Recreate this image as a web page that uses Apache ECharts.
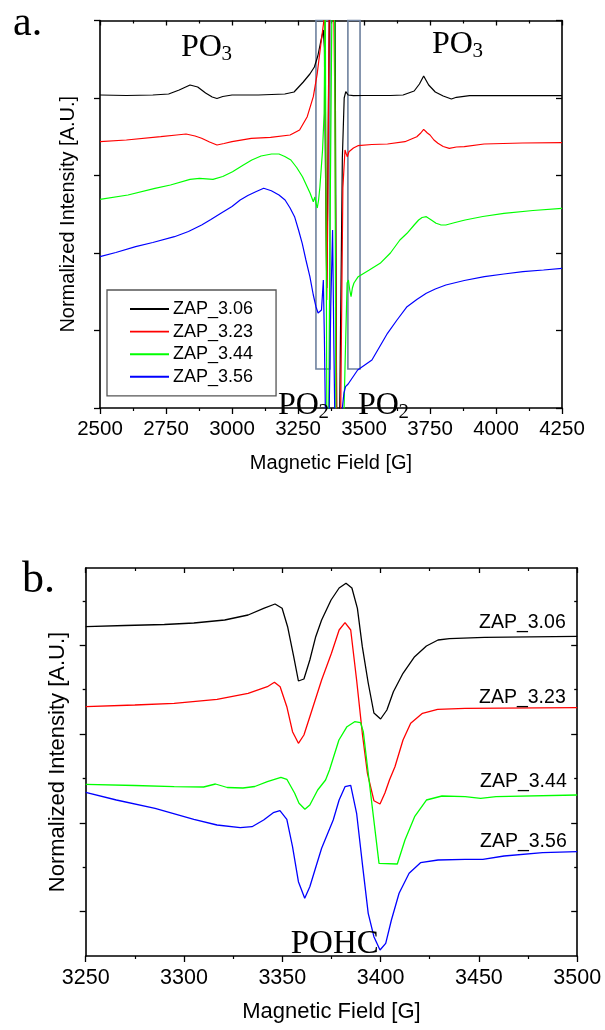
<!DOCTYPE html>
<html>
<head>
<meta charset="utf-8">
<script src="https://cdn.jsdelivr.net/npm/echarts@6/dist/echarts.min.js"></script>
<style>
  html, body { margin: 0; padding: 0; background: #ffffff; }
  #chart { width: 605px; height: 1030px; }
</style>
</head>
<body>
<div id="chart"></div>
<script>
// Sample names and trace colours
const samples = ['ZAP_3.06', 'ZAP_3.23', 'ZAP_3.44', 'ZAP_3.56'];
const traceColors = ['#000000', '#ff0000', '#00ff00', '#0000ff'];

// Panel a: wide sweep, field [G] vs. stacked normalized intensity [a.u.]
const wideZAP306 = [[2500,313],[2600,312.5],[2700,313],[2760,314],[2800,318],[2841,323],[2870,321],[2900,315],[2925,311],[2943,309.5],[2965,311.5],[3000,313],[3100,313],[3200,314],[3235,316],[3270,326],[3295,334],[3312,341],[3325,352],[3335,365],[3346,378],[3350,360],[3354,240],[3359,120],[3362,200],[3366,330],[3370,420],[3382,520],[3390,420],[3394,150],[3398,-100],[3405,-80],[3410,50],[3418,250],[3425,310],[3431,316.3],[3440,313],[3447,311.3],[3460,312.3],[3500,312.5],[3600,312.5],[3648,313],[3690,317],[3710,324],[3726,332],[3745,323],[3770,316],[3800,312],[3831,309],[3850,310.7],[3900,312.3],[4000,312.3],[4100,312.5],[4250,312.3]];
const wideZAP323 = [[2500,266.3],[2600,268],[2730,271.3],[2790,273],[2826,274],[2860,272],[2885,269.7],[2915,266],[2943,263],[2970,264.5],[3000,266.3],[3073,269.7],[3146,270.7],[3220,273],[3256,278],[3285,291.3],[3308,311.3],[3323,334.7],[3337,364.7],[3348,387.5],[3351,400],[3355,260],[3359,108],[3363,200],[3368,400],[3380,520],[3390,300],[3395,60],[3400,-150],[3408,-120],[3414,60],[3420,220],[3428,258],[3433,254],[3437,251.3],[3443,256.3],[3460,260],[3477,262.3],[3530,263.5],[3589,264],[3655,266.3],[3700,271.3],[3715,275],[3726,278.7],[3740,275],[3750,273],[3765,268],[3780,264.7],[3800,261.5],[3823,259.7],[3850,261],[3880,261.3],[3955,264],[4100,265],[4250,265.3]];
const wideZAP344 = [[2500,208.7],[2606,213],[2708,219.7],[2767,223],[2841,228.7],[2877,229.7],[2928,228.7],[2965,231.5],[3002,236.3],[3040,242.5],[3075,248],[3110,252],[3150,254],[3178,254],[3200,251.5],[3223,248],[3245,240.5],[3267,231.3],[3296,214.7],[3308,206.3],[3314,211],[3318,205],[3323,200],[3328,208],[3333,221.3],[3343,258],[3349,295],[3353,420],[3357,150],[3360,-60],[3366,-20],[3372,200],[3380,450],[3388,480],[3394,-60],[3410,-100],[3422,-30],[3428,40],[3436,125],[3441,128],[3446,118],[3451,111.3],[3456,120],[3462,125],[3478,131.3],[3520,138],[3561,144.7],[3600,155],[3636,168],[3663,174.7],[3690,183],[3707,188],[3720,190.5],[3736,191.3],[3755,188],[3773,184.7],[3790,183.2],[3810,183],[3845,185.5],[3883,188],[3950,191.5],[4030,194.7],[4140,197.5],[4250,199.7]];
const wideZAP356 = [[2500,151.3],[2560,155.5],[2635,161.3],[2700,165.5],[2782,171.3],[2835,176.5],[2885,183],[2920,188.5],[2958,194.7],[3000,201.5],[3031,208],[3060,212.5],[3090,216.3],[3120,219.7],[3149,217.3],[3178,213],[3201,208],[3220,200],[3237,191.3],[3252,178],[3266,164.7],[3280,148],[3295,131.3],[3308,113],[3318,101.3],[3326,95],[3333,93.7],[3339,98],[3346,128],[3350,70],[3356,-50],[3366,-40],[3374,100],[3381,178],[3386,60],[3392,-60],[3410,-90],[3418,0],[3424,15],[3430,21.3],[3440,24],[3447,25],[3476,38],[3530,48],[3589,74.7],[3625,88],[3663,101.3],[3700,108.5],[3736,114.7],[3770,119],[3810,123],[3880,127.5],[3956,131.3],[4030,134],[4102,136.3],[4180,138],[4250,139.7]];

// Panel b: narrow sweep around the POHC signal
const narrowZAP306 = [[3250,329.3],[3270,330.5],[3290,331.5],[3305,333],[3320.7,336],[3332.6,341],[3340.5,347.7],[3346.3,352],[3349.9,347.7],[3352.7,329.3],[3355.8,299.3],[3358.2,275],[3361,277],[3364,296],[3367,319.3],[3370,336],[3374.8,356],[3378.9,368],[3382.4,372.7],[3385.4,368],[3388.2,347.7],[3390.7,309.3],[3393.7,273],[3396.6,243],[3400,237],[3403.2,246],[3406.5,264.3],[3411.4,282.7],[3417.3,299.3],[3423.3,310],[3429.2,316],[3435,317.3],[3452.8,318.7],[3500,319.7]];
const narrowZAP323 = [[3250,249.3],[3275,251],[3295,252.7],[3316.8,256.7],[3332.6,262.7],[3342.4,269.3],[3346,273.7],[3348.9,269.3],[3352.3,249.3],[3355.2,224.3],[3358.2,212.7],[3361,221],[3364,239.3],[3370,276],[3375,302.7],[3378.9,326],[3381.9,333.3],[3384.8,326],[3387.8,276],[3390.7,222.7],[3393.3,182.7],[3396.6,155.3],[3399.7,152],[3402.2,163],[3404.5,176],[3407.3,189.3],[3411.4,216],[3415.3,232.7],[3421.3,242.7],[3429,246.7],[3443,247.7],[3500,248.3]];
const narrowZAP344 = [[3250,171.7],[3275,170.5],[3295,169.3],[3310,169],[3316,172],[3322,168.5],[3330,168],[3336,169.5],[3342.4,174.3],[3349.3,178.7],[3352.3,176.7],[3356.3,162.7],[3358.5,152.7],[3361.5,146.7],[3364,151],[3368,166],[3372,176],[3374,186],[3378.8,216],[3382.9,229.3],[3386.8,234.3],[3389.8,233.3],[3391.2,224.3],[3392.7,199.3],[3394.6,168],[3399.2,92.7],[3408.5,92],[3412.4,116],[3417.3,139.3],[3423.3,156],[3431.2,160],[3443,159.3],[3450.9,157.7],[3458.7,159.3],[3500,161]];
const narrowZAP356 = [[3250,163.7],[3265.6,156],[3285.3,147.7],[3305,136.7],[3316.8,131],[3328.6,128.3],[3334.6,129.3],[3340.5,136],[3345.4,143.3],[3348.8,145.3],[3352.3,136.7],[3355.2,109.3],[3358.2,74.3],[3361.4,57.7],[3364,69.3],[3367.1,89.3],[3370,107.7],[3375.9,136],[3378.9,156],[3381.9,169.3],[3384.8,170.7],[3387.8,142.7],[3390.7,92.7],[3393.7,42.7],[3396.6,19.3],[3399.7,6],[3402.6,12.7],[3405.5,36],[3409.4,62.7],[3414.5,82.7],[3420.3,93.3],[3429.2,96],[3443,96.7],[3452,96.7],[3462.8,100],[3482.4,103.3],[3500,104.3]];

// Axis ticks (field in gauss; intensity scales are unlabelled)
const wideFieldTicks = [2500, 2750, 3000, 3250, 3500, 3750, 4000, 4250];
const narrowFieldTicks = [3250, 3300, 3350, 3400, 3450, 3500];
const wideIntensityTicks = [0, 77.5, 155, 232.5, 310, 387.5];
const narrowMajorTicks = [44.4, 133.2, 222, 310.8];
const narrowMinorTicks = [88.8, 177.6, 266.4, 355.2];
const narrowIntensityMax = 388;

// Field windows of the PO2 lines in panel a: [from, to] G, and their intensity span
const po2Windows = [[3318, 3371], [3439, 3485]];
const po2WindowSpan = [39, 387.5];

const wideSets = [wideZAP306, wideZAP323, wideZAP344, wideZAP356];
const narrowSets = [narrowZAP306, narrowZAP323, narrowZAP344, narrowZAP356];

const SANS = '"Liberation Sans", Arial, sans-serif';
const SERIF = '"Liberation Serif", "Times New Roman", serif';

const chart = echarts.init(document.getElementById('chart'), null, { renderer: 'canvas' });

function fieldAxis(grid, ticks, pos, fontSize, withName) {
  const step = ticks[1] - ticks[0];
  const bottom = pos === 'bottom';
  return {
    type: 'value', gridIndex: grid, position: pos,
    min: ticks[0], max: ticks[ticks.length - 1], interval: step,
    axisLine: { show: true, onZero: false, lineStyle: { color: '#000', width: 1.6 } },
    axisTick: { show: true, inside: !bottom, length: bottom ? 6 : 5, lineStyle: { color: '#000', width: 1.3 } },
    minorTick: { show: true, splitNumber: 2, length: 3, lineStyle: { color: '#000', width: 1.2 } },
    splitLine: { show: false },
    axisLabel: { show: bottom, color: '#000', fontFamily: SANS, fontSize: fontSize, margin: 11,
      formatter: v => String(v) },
    name: withName ? 'Magnetic Field [G]' : '',
    nameLocation: 'middle',
    nameGap: withName ? withName.gap : 0,
    nameTextStyle: withName ? { color: '#000', fontFamily: SANS, fontSize: withName.size } : {}
  };
}

function intensityAxis(grid, pos, opts) {
  const left = pos === 'left';
  return Object.assign({
    type: 'value', gridIndex: grid, position: pos,
    min: 0,
    axisLine: { show: true, onZero: false, lineStyle: { color: '#000', width: 1.6 } },
    axisTick: { show: true, inside: !left, length: 6, lineStyle: { color: '#000', width: 1.3 } },
    splitLine: { show: false },
    axisLabel: { show: false }
  }, opts);
}

const yName = (size, gap) => ({
  name: 'Normalized Intensity [A.U.]', nameLocation: 'middle', nameGap: gap,
  nameTextStyle: { color: '#000', fontFamily: SANS, fontSize: size }
});

const xAxes = [
  fieldAxis(0, wideFieldTicks, 'bottom', 20.5, { gap: 45, size: 20 }),
  fieldAxis(0, wideFieldTicks, 'top', 20.5, null),
  fieldAxis(1, narrowFieldTicks, 'bottom', 21.5, { gap: 45, size: 22 }),
  fieldAxis(1, narrowFieldTicks, 'top', 21.5, null)
];

const wideStep = wideIntensityTicks[1] - wideIntensityTicks[0];
const wideMax = wideIntensityTicks[wideIntensityTicks.length - 1];
const yAxes = [
  intensityAxis(0, 'left', Object.assign({ max: wideMax, interval: wideStep }, yName(20, 22))),
  intensityAxis(0, 'right', { max: wideMax, interval: wideStep }),
  intensityAxis(1, 'left', Object.assign({ max: narrowIntensityMax,
    axisTick: { show: true, inside: false, length: 6, customValues: narrowMajorTicks, lineStyle: { color: '#000', width: 1.3 } } }, yName(22, 17))),
  intensityAxis(1, 'left', { max: narrowIntensityMax, axisLine: { show: false },
    axisTick: { show: true, inside: false, length: 3, customValues: narrowMinorTicks, lineStyle: { color: '#000', width: 1.3 } } }),
  intensityAxis(1, 'right', { max: narrowIntensityMax,
    axisTick: { show: true, inside: true, length: 6, customValues: narrowMajorTicks, lineStyle: { color: '#000', width: 1.3 } } }),
  intensityAxis(1, 'right', { max: narrowIntensityMax, axisLine: { show: false },
    axisTick: { show: true, inside: true, length: 3, customValues: narrowMinorTicks, lineStyle: { color: '#000', width: 1.3 } } })
];

const series = [];
samples.forEach((name, i) => {
  series.push({
    name: name, type: 'line', xAxisIndex: 0, yAxisIndex: 0,
    data: wideSets[i], showSymbol: false, symbol: 'none', smooth: false, clip: true,
    lineStyle: { color: traceColors[i], width: 1.2 }, itemStyle: { color: traceColors[i] },
    animation: false, z: 3
  });
});
samples.forEach((name, i) => {
  series.push({
    name: name + ' ', type: 'line', xAxisIndex: 2, yAxisIndex: 2,
    data: narrowSets[i], showSymbol: false, symbol: 'none', smooth: false, clip: true,
    lineStyle: { color: traceColors[i], width: 1.3 }, itemStyle: { color: traceColors[i] },
    animation: false, z: 3
  });
});
// Outlined field windows around the PO2 lines
series.push({
  name: 'PO2 window', type: 'line', xAxisIndex: 0, yAxisIndex: 0, data: [], silent: true, animation: false,
  markArea: {
    silent: true,
    itemStyle: { color: 'rgba(0,0,0,0)', borderColor: '#6e819e', borderWidth: 1.6 },
    data: po2Windows.map(w => [
      { xAxis: w[0], yAxis: po2WindowSpan[0] },
      { xAxis: w[1], yAxis: po2WindowSpan[1] }
    ])
  },
  z: 2
});

function txt(text, x, y, size, family) {
  return { type: 'text', x: x, y: y, z: 10, silent: true,
    style: { text: text, fill: '#000', font: size + 'px ' + family, align: 'left', verticalAlign: 'middle' } };
}

// Species label: "PO" followed by a lowered, smaller digit
function species(digit, x, baseline) {
  const big = 32, small = 21;
  return [
    txt('PO', x, baseline - 0.34 * big, big, SERIF),
    txt(digit, x + 40.5, baseline + 3.5 - 0.34 * small, small, SERIF)
  ];
}

const option = {
  animation: false,
  backgroundColor: '#ffffff',
  grid: [
    { left: 100, top: 20.5, width: 462, height: 387.5, containLabel: false },
    { left: 85.7, top: 568, width: 491.5, height: 388, containLabel: false }
  ],
  xAxis: xAxes,
  yAxis: yAxes,
  legend: {
    data: samples, orient: 'vertical', left: 107, top: 290,
    padding: [10, 23, 10, 23], itemGap: 4.6, itemWidth: 39, itemHeight: 14,
    icon: 'path://M0,6 L40,6 L40,8 L0,8 Z',
    borderColor: '#555', borderWidth: 1.3, backgroundColor: '#fff',
    selectedMode: false,
    textStyle: { color: '#000', fontFamily: SANS, fontSize: 18, lineHeight: 18, padding: [0, 0, 0, -1] }
  },
  series: series,
  graphic: [
    txt('a.', 13, 24, 42, SERIF),
    txt('b.', 22, 580, 44, SERIF)
  ].concat(
    species('3', 181, 58),
    species('3', 432, 55),
    species('2', 278, 416),
    species('2', 358, 416),
    [
      txt('POHC', 290.7, 944.8, 33, SERIF),
      txt(samples[0], 479, 623, 19.5, SANS),
      txt(samples[1], 479, 698, 19.5, SANS),
      txt(samples[2], 480, 782, 19.5, SANS),
      txt(samples[3], 480, 842, 19.5, SANS)
    ]
  )
};
chart.setOption(option);
</script>
</body>
</html>
